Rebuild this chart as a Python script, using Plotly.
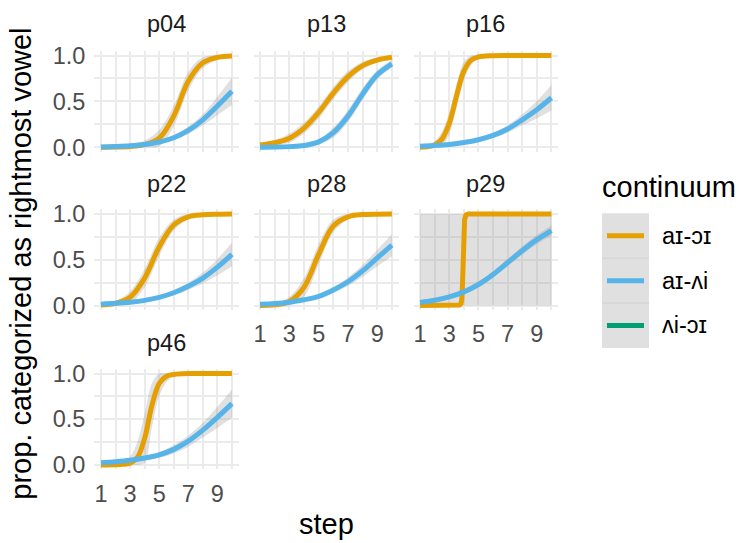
import plotly.graph_objects as go

W, H = 739, 543

# ---------------- data ----------------
steps = [1, 2, 3, 4, 5, 6, 7, 8, 9, 10]
participants = ["p04", "p13", "p16", "p22", "p28", "p29", "p46"]
continua = ["aɪ-ɔɪ", "aɪ-ʌi", "ʌi-ɔɪ"]
colors = ["#E69F00", "#56B4E9", "#009E73"]

x_ticks = [1, 3, 5, 7, 9]
y_ticks = [0.0, 0.5, 1.0]
y_tick_labels = ["0.0", "0.5", "1.0"]

# p04
p04_ai_oi_x = steps
p04_ai_oi = [0.001, 0.003, 0.009, 0.03, 0.1, 0.34, 0.72, 0.92, 0.98, 0.995]
p04_ai_oi_se = [0.004, 0.008, 0.018, 0.045, 0.09, 0.11, 0.1, 0.06, 0.03, 0.014]
p04_ai_vi_x = steps
p04_ai_vi = [0.005, 0.01, 0.018, 0.032, 0.058, 0.105, 0.185, 0.3, 0.45, 0.61]
p04_ai_vi_se = [0.006, 0.007, 0.009, 0.012, 0.018, 0.026, 0.04, 0.06, 0.1, 0.15]

# p13
p13_ai_oi_x = steps
p13_ai_oi = [0.025, 0.05, 0.1, 0.21, 0.38, 0.59, 0.77, 0.89, 0.95, 0.98]
p13_ai_oi_se = [0.018, 0.03, 0.05, 0.06, 0.065, 0.065, 0.06, 0.04, 0.025, 0.014]
p13_ai_vi_x = steps
p13_ai_vi = [0.001, 0.003, 0.008, 0.02, 0.06, 0.16, 0.34, 0.58, 0.79, 0.91]
p13_ai_vi_se = [0.002, 0.004, 0.008, 0.016, 0.03, 0.055, 0.065, 0.065, 0.05, 0.04]

# p16
p16_ai_oi_x = [1, 1.5, 2, 2.5, 3, 3.5, 4, 4.5, 5, 6, 7, 8, 9, 10]
p16_ai_oi = [0.001, 0.007, 0.026, 0.09, 0.26, 0.56, 0.83, 0.95, 0.985, 0.998, 1, 1, 1, 1]
p16_ai_oi_se = [0.005, 0.015, 0.04, 0.08, 0.12, 0.13, 0.1, 0.055, 0.025, 0.008, 0.002, 0.001, 0.001, 0.001]
p16_ai_vi_x = steps
p16_ai_vi = [0.012, 0.02, 0.032, 0.052, 0.083, 0.13, 0.2, 0.3, 0.41, 0.54]
p16_ai_vi_se = [0.009, 0.011, 0.013, 0.016, 0.02, 0.028, 0.04, 0.06, 0.095, 0.14]

# p22
p22_ai_oi_x = steps
p22_ai_oi = [0.006, 0.024, 0.09, 0.3, 0.64, 0.88, 0.97, 0.992, 0.998, 1.0]
p22_ai_oi_se = [0.008, 0.025, 0.065, 0.1, 0.1, 0.06, 0.03, 0.012, 0.005, 0.002]
p22_ai_vi_x = steps
p22_ai_vi = [0.015, 0.024, 0.037, 0.057, 0.09, 0.14, 0.21, 0.3, 0.42, 0.56]
p22_ai_vi_se = [0.01, 0.011, 0.013, 0.016, 0.02, 0.028, 0.04, 0.06, 0.09, 0.13]

# p28
p28_ai_oi_x = steps
p28_ai_oi = [0.002, 0.009, 0.045, 0.2, 0.56, 0.87, 0.97, 0.994, 0.999, 1.0]
p28_ai_oi_se = [0.005, 0.015, 0.05, 0.1, 0.11, 0.07, 0.03, 0.01, 0.003, 0.001]
p28_ai_vi_x = steps
p28_ai_vi = [0.013, 0.022, 0.037, 0.063, 0.1, 0.17, 0.26, 0.38, 0.52, 0.66]
p28_ai_vi_se = [0.009, 0.011, 0.013, 0.017, 0.022, 0.03, 0.045, 0.065, 0.09, 0.12]

# p29
p29_ai_oi_x = [1, 2, 3, 3.5, 3.7, 3.8, 3.85, 3.9, 3.95, 4.0, 4.05, 4.15, 4.3, 5, 6, 7, 8, 9, 10]
p29_ai_oi = [0, 0, 0, 0, 0.005, 0.02, 0.06, 0.2, 0.5, 0.8, 0.94, 0.99, 1, 1, 1, 1, 1, 1, 1]
p29_ai_oi_se = [1] * 19
p29_ai_vi_x = steps
p29_ai_vi = [0.035, 0.058, 0.095, 0.15, 0.23, 0.34, 0.47, 0.6, 0.72, 0.82]
p29_ai_vi_se = [0.025, 0.025, 0.025, 0.025, 0.03, 0.035, 0.04, 0.045, 0.05, 0.055]

# p46
p46_ai_oi_x = [1, 2, 2.5, 3, 3.5, 4, 4.5, 5, 5.5, 6, 7, 8, 9, 10]
p46_ai_oi = [0.0, 0.002, 0.006, 0.02, 0.08, 0.29, 0.65, 0.89, 0.97, 0.99, 1, 1, 1, 1]
p46_ai_oi_se = [0.005, 0.012, 0.025, 0.07, 0.17, 0.27, 0.24, 0.14, 0.065, 0.028, 0.007, 0.002, 0.001, 0.001]
p46_ai_vi_x = steps
p46_ai_vi = [0.025, 0.035, 0.05, 0.075, 0.11, 0.17, 0.26, 0.38, 0.52, 0.67]
p46_ai_vi_se = [0.012, 0.014, 0.017, 0.022, 0.032, 0.045, 0.06, 0.08, 0.115, 0.155]

curves = {
    "p04": [(p04_ai_oi_x, p04_ai_oi, p04_ai_oi_se), (p04_ai_vi_x, p04_ai_vi, p04_ai_vi_se)],
    "p13": [(p13_ai_oi_x, p13_ai_oi, p13_ai_oi_se), (p13_ai_vi_x, p13_ai_vi, p13_ai_vi_se)],
    "p16": [(p16_ai_oi_x, p16_ai_oi, p16_ai_oi_se), (p16_ai_vi_x, p16_ai_vi, p16_ai_vi_se)],
    "p22": [(p22_ai_oi_x, p22_ai_oi, p22_ai_oi_se), (p22_ai_vi_x, p22_ai_vi, p22_ai_vi_se)],
    "p28": [(p28_ai_oi_x, p28_ai_oi, p28_ai_oi_se), (p28_ai_vi_x, p28_ai_vi, p28_ai_vi_se)],
    "p29": [(p29_ai_oi_x, p29_ai_oi, p29_ai_oi_se), (p29_ai_vi_x, p29_ai_vi, p29_ai_vi_se)],
    "p46": [(p46_ai_oi_x, p46_ai_oi, p46_ai_oi_se), (p46_ai_vi_x, p46_ai_vi, p46_ai_vi_se)],
}

# ---------------- layout geometry (pixels) ----------------
col_px = [(94.4, 238.5), (253.5, 398.5), (413.5, 558.0)]
row_px = [(44.3, 148.6), (208.0, 311.9), (372.6, 476.4)]
strip_offset = [28, 26, 27]

FONT = "Liberation Sans, Arial, DejaVu Sans, sans-serif"
TICK_SIZE = 23.5
STRIP_SIZE = 23.5
TITLE_SIZE = 29
GRID = "#EBEBEB"
RIBBON = "rgba(153,153,153,0.3)"
LINE_W = 5


def px_x(v):
    return v / W


def px_y(v):
    return 1 - v / H


fig = go.Figure()
layout = {}
annotations = []

for i, pid in enumerate(participants):
    r, c = divmod(i, 3)
    n = "" if i == 0 else str(i + 1)
    xa, ya = "x" + n, "y" + n
    l, rr = col_px[c]
    t, b = row_px[r]
    bottom_of_col = (pid in ("p46", "p28", "p29"))
    layout["xaxis" + n] = dict(
        domain=[px_x(l), px_x(rr)], anchor=ya, range=[0.55, 10.45],
        tickvals=x_ticks, showticklabels=bottom_of_col, ticks="",
        ticklabelstandoff=8 if r == 2 else 7,
        showgrid=True, gridcolor=GRID, gridwidth=2, zeroline=False, showline=False,
        minor=dict(tickvals=[2, 4, 6, 8, 10], showgrid=True, gridcolor=GRID, gridwidth=1.6),
        tickfont=dict(family=FONT, size=TICK_SIZE, color="#4D4D4D"),
        fixedrange=True,
    )
    layout["yaxis" + n] = dict(
        domain=[px_y(b), px_y(t)], anchor=xa, range=[-0.05, 1.05],
        tickvals=y_ticks, ticktext=y_tick_labels, showticklabels=(c == 0), ticks="",
        ticklabelstandoff=8,
        showgrid=True, gridcolor=GRID, gridwidth=2, zeroline=False, showline=False,
        minor=dict(tickvals=[0.25, 0.75], showgrid=True, gridcolor=GRID, gridwidth=1.6),
        tickfont=dict(family=FONT, size=TICK_SIZE, color="#4D4D4D"),
        fixedrange=True,
    )
    annotations.append(dict(
        text=pid, x=px_x((l + rr) / 2), y=px_y(t - strip_offset[r]), xref="paper", yref="paper",
        showarrow=False, xanchor="center", yanchor="middle",
        font=dict(family=FONT, size=STRIP_SIZE, color="#1A1A1A"),
    ))

    for k, (xs, ys, se) in enumerate(curves[pid]):
        shape = "linear" if (pid == "p29" and k == 0) else "spline"
        lo = [max(0.0, v - s) for v, s in zip(ys, se)]
        hi = [min(1.0, v + s) for v, s in zip(ys, se)]
        fig.add_trace(go.Scatter(x=xs, y=lo, xaxis=xa, yaxis=ya, mode="lines",
                                 line=dict(width=0, shape=shape), hoverinfo="skip",
                                 showlegend=False))
        fig.add_trace(go.Scatter(x=xs, y=hi, xaxis=xa, yaxis=ya, mode="lines",
                                 line=dict(width=0, shape=shape), fill="tonexty",
                                 fillcolor=RIBBON, hoverinfo="skip", showlegend=False))
        fig.add_trace(go.Scatter(x=xs, y=ys, xaxis=xa, yaxis=ya, mode="lines",
                                 line=dict(color=colors[k], width=LINE_W, shape=shape),
                                 name=continua[k], showlegend=False))

# axis titles
annotations.append(dict(text="step", x=px_x(326), y=px_y(533), xref="paper", yref="paper",
                        showarrow=False, xanchor="center", yanchor="middle",
                        font=dict(family=FONT, size=TITLE_SIZE, color="#000000")))
annotations.append(dict(text="prop. categorized as rightmost vowel", x=px_x(21), y=px_y(264),
                        xref="paper", yref="paper", showarrow=False, textangle=-90,
                        xanchor="center", yanchor="middle",
                        font=dict(family=FONT, size=TITLE_SIZE, color="#000000")))

# legend (drawn as guide)
shapes = []
key_l, key_r = 602, 649
key_top, key_h = 212, 46.3
annotations.append(dict(text="continuum", x=px_x(600), y=px_y(185), xref="paper", yref="paper",
                        showarrow=False, xanchor="left", yanchor="middle",
                        font=dict(family=FONT, size=TITLE_SIZE, color="#000000")))
for k, name in enumerate(continua):
    kt = key_top + k * key_h
    shapes.append(dict(type="rect", xref="paper", yref="paper",
                       x0=px_x(key_l), x1=px_x(key_r), y0=px_y(kt + key_h), y1=px_y(kt),
                       fillcolor="#E0E0E0", line=dict(width=0), layer="below"))
    if k > 0:
        shapes.append(dict(type="line", xref="paper", yref="paper",
                           x0=px_x(key_l), x1=px_x(key_r), y0=px_y(kt), y1=px_y(kt),
                           line=dict(color="#CFCFCF", width=1)))
    cy = kt + key_h / 2
    shapes.append(dict(type="line", xref="paper", yref="paper",
                       x0=px_x(key_l + 5), x1=px_x(key_r - 5), y0=px_y(cy), y1=px_y(cy),
                       line=dict(color=colors[k], width=LINE_W)))
    annotations.append(dict(text=name, x=px_x(660), y=px_y(cy), xref="paper", yref="paper",
                            showarrow=False, xanchor="left", yanchor="middle",
                            font=dict(family=FONT, size=TICK_SIZE, color="#000000")))

fig.update_layout(
    width=W, height=H, margin=dict(l=0, r=0, t=0, b=0),
    paper_bgcolor="white", plot_bgcolor="white",
    showlegend=False, annotations=annotations, shapes=shapes,
    **layout,
)

fig.write_html("out.html")
